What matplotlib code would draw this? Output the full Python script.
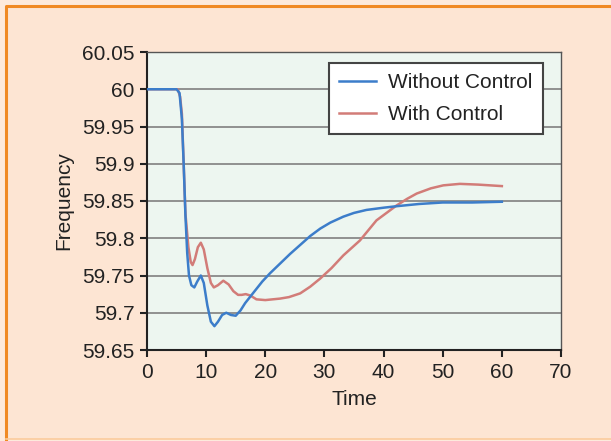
import numpy as np
import matplotlib
matplotlib.use('Agg')
import matplotlib.pyplot as plt
from matplotlib.patches import Rectangle
from matplotlib.lines import Line2D

matplotlib.rc('font', **{'family': ['Liberation Sans', 'DejaVu Sans'], 'size': 15})

# values
t_without = [0, 5, 5.5, 5.9, 6.2, 6.5, 6.8, 7.1, 7.5, 8.0, 8.5, 9.1, 9.6, 10.2, 10.8, 11.4,
             12.0, 12.7, 13.4, 14.2, 15.0, 15.8, 16.6, 17.4, 18.5, 19.5, 20.8, 22.5, 24.2,
             25.9, 27.6, 29.3, 31, 33.2, 35, 37.1, 40, 42.2, 46, 50, 55, 60]
f_without = [60, 60, 59.995, 59.96, 59.90, 59.83, 59.78, 59.75, 59.737, 59.734, 59.742, 59.750,
             59.74, 59.71, 59.688, 59.682, 59.688, 59.697, 59.700, 59.697, 59.696, 59.703,
             59.713, 59.721, 59.732, 59.742, 59.753, 59.766, 59.779, 59.791, 59.803, 59.813,
             59.821, 59.829, 59.834, 59.838, 59.841, 59.843, 59.846, 59.848, 59.848, 59.849]

t_with = [0, 5.2, 5.6, 5.9, 6.2, 6.5, 7.0, 7.4, 7.7, 8.1, 8.6, 9.1, 9.6, 10.2, 10.8, 11.3,
          12.0, 12.9, 13.8, 14.6, 15.4, 16.0, 16.7, 17.5, 18.5, 20, 22.5, 24, 25.9, 27.6,
          29.3, 31.2, 33.2, 36, 38.8, 40.5, 42.2, 44, 45.6, 48, 50.1, 52.9, 56, 60]
f_with = [60, 60, 59.99, 59.967, 59.90, 59.833, 59.788, 59.768, 59.764, 59.772, 59.788,
          59.794, 59.785, 59.76, 59.74, 59.734, 59.737, 59.743, 59.738, 59.729, 59.724,
          59.724, 59.725, 59.723, 59.718, 59.717, 59.719, 59.721, 59.726, 59.735, 59.746,
          59.760, 59.777, 59.797, 59.824, 59.834, 59.844, 59.853, 59.860, 59.867, 59.871,
          59.873, 59.872, 59.870]

yticks = [59.65, 59.7, 59.75, 59.8, 59.85, 59.9, 59.95, 60, 60.05]
ytick_labels = ['59.65', '59.7', '59.75', '59.8', '59.85', '59.9', '59.95', '60', '60.05']
xticks = [0, 10, 20, 30, 40, 50, 60, 70]

fig = plt.figure(figsize=(6.11, 4.41), dpi=100, facecolor='#fdeadc')
fig.patches.append(Rectangle((6 / 611, 2 / 441), 0.999, 433 / 441, transform=fig.transFigure,
                             facecolor='#fde5d3', edgecolor='none', zorder=-10))
# frame: strong orange on left and top, faint at the bottom
fig.lines.append(Line2D([6 / 611, 6 / 611, 1], [2 / 441, 435 / 441, 435 / 441],
                        transform=fig.transFigure, color='#f08a24', lw=2.2))
fig.lines.append(Line2D([6 / 611, 1], [2 / 441, 2 / 441], transform=fig.transFigure,
                        color='#fbcb9c', lw=1.2))

ax = fig.add_axes([147 / 611, 91 / 441, 414 / 611, 298 / 441])
ax.set_facecolor('#edf6f0')

for y in yticks:
    ax.axhline(y, color='#808080', lw=1.2, zorder=1)

ax.plot(t_without, f_without, color='#3c7dca', lw=1.8, label='Without Control', zorder=3)
ax.plot(t_with, f_with, color='#d27c78', lw=1.8, label='With Control', zorder=2)

ax.set_xlim(0, 70)
ax.set_ylim(59.65, 60.05)
ax.set_xticks(xticks)
ax.set_yticks(yticks)
ax.set_yticklabels(ytick_labels)
ax.tick_params(direction='out', length=5, width=1.5, colors='#222222', pad=4)
for s in ['left', 'bottom']:
    ax.spines[s].set_color('#222222')
    ax.spines[s].set_linewidth(1.5)
for s in ['top', 'right']:
    ax.spines[s].set_color('#555555')
    ax.spines[s].set_linewidth(1)

ax.set_xlabel('Time', color='#222222', labelpad=6)
ax.set_ylabel('Frequency', color='#222222', labelpad=6)

leg = ax.legend(loc='upper right', bbox_to_anchor=(0.957, 0.963), borderaxespad=0,
                fancybox=False, framealpha=1, edgecolor='#444444', borderpad=0.5,
                handlelength=1.75, labelspacing=0.6, handletextpad=0.6)
leg.get_frame().set_linewidth(1.5)
for txt in leg.get_texts():
    txt.set_color('#222222')

fig.savefig('out.png', dpi=100, facecolor=fig.get_facecolor())
